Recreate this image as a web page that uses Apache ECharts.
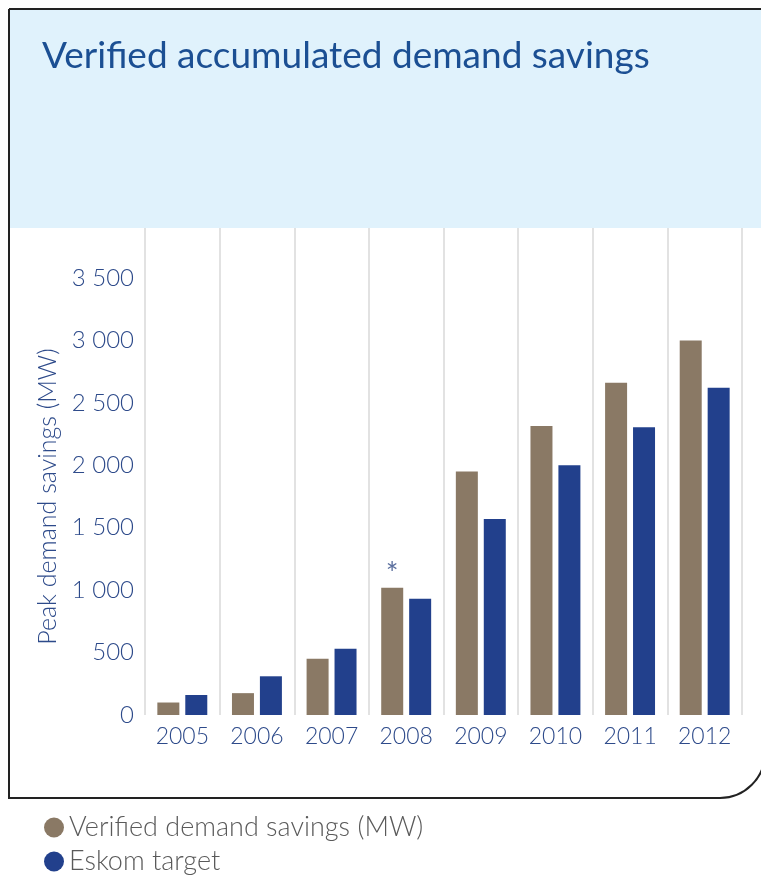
<!DOCTYPE html>
<html>
<head>
<meta charset="utf-8">
<script src="https://cdn.jsdelivr.net/npm/echarts@6/dist/echarts.min.js"></script>
<style>
  html, body { margin: 0; padding: 0; background: #fff; }
  #chart { width: 761px; height: 875px; }
</style>
</head>
<body>
<div id="chart"></div>
<script>
// data
var years = ['2005', '2006', '2007', '2008', '2009', '2010', '2011', '2012'];
var verified = [100, 175, 450, 1020, 1950, 2315, 2660, 3000];
var target = [160, 310, 530, 930, 1570, 2000, 2305, 2620];
var yTicks = [0, 500, 1000, 1500, 2000, 2500, 3000, 3500];
var seriesNames = ['Verified demand savings (MW)', 'Eskom target'];

var brown = '#8a7965',
	blue = '#22408c',
	textBlue = '#2d4a8a';

// space as thousands separator
function fmt(v) {
	if (yTicks.indexOf(v) < 0) return '';
	var s = String(v);
	return s.length > 3 ? s.slice(0, s.length - 3) + ' ' + s.slice(-3) : s;
}

var verifiedData = verified.map(function(v, i) {
	if (years[i] == '2008') {
		//2008上方的星号
		return {
			value: v,
			label: { show: true, position: 'top', formatter: '*', color: '#5b6f9e', fontSize: 30, distance: -2 }
		};
	}
	return v;
});

var legendText = { fontSize: 27, color: '#5a5a5a', fontFamily: 'Lato', fontWeight: 300 };

var myChart = echarts.init(document.getElementById('chart'));
var option = {
	animation: false,
	textStyle: { fontFamily: 'Lato' },
	title: {
		text: 'Verified accumulated demand savings',
		left: 37,
		top: 33,
		textStyle: { fontSize: 37, fontWeight: 'normal', color: '#1b4f93', fontFamily: 'Lato' }
	},
	graphic: [{
		type: 'rect',
		z: -10,
		shape: { x: 10, y: 10, width: 760, height: 218 },
		style: { fill: '#e0f2fc' }
	}, {
		type: 'rect',
		z: -5,
		shape: { x: 9, y: 9, width: 756, height: 789, r: [0, 0, 45, 0] },
		style: { fill: 'none', stroke: '#222', lineWidth: 2 }
	}],
	legend: [{
		left: 39,
		top: 809,
		icon: 'circle',
		itemWidth: 20,
		itemHeight: 20,
		selectedMode: false,
		textStyle: legendText,
		data: [seriesNames[0]]
	}, {
		left: 39,
		top: 843,
		icon: 'circle',
		itemWidth: 20,
		itemHeight: 20,
		selectedMode: false,
		textStyle: legendText,
		data: [seriesNames[1]]
	}],
	grid: {
		left: 145,
		right: 19,
		top: 228,
		bottom: 160
	},
	xAxis: {
		type: 'category',
		data: years,
		axisLine: { show: false },
		axisTick: { show: false },
		axisLabel: { fontSize: 23, color: textBlue, margin: 10, fontWeight: 300 },
		splitLine: { show: true, lineStyle: { color: '#d9d9d9', width: 1.5 } }
	},
	yAxis: {
		type: 'value',
		min: 0,
		max: 3900,
		interval: 100,
		name: 'Peak demand savings (MW)',
		nameLocation: 'middle',
		nameGap: 84,
		nameTextStyle: { fontSize: 25, color: textBlue, fontWeight: 300, padding: [0, 50, 0, 0] },
		axisLine: { show: false },
		axisTick: { show: false },
		splitLine: { show: false },
		axisLabel: { fontSize: 24, color: textBlue, margin: 11, formatter: fmt, showMaxLabel: false, fontWeight: 300 }
	},
	series: [{
		name: seriesNames[0],
		type: 'bar',
		data: verifiedData,
		barWidth: 22,
		barGap: '27%',
		itemStyle: { color: brown }
	}, {
		name: seriesNames[1],
		type: 'bar',
		data: target,
		barWidth: 22,
		itemStyle: { color: blue }
	}]
};
myChart.setOption(option);
</script>
</body>
</html>
